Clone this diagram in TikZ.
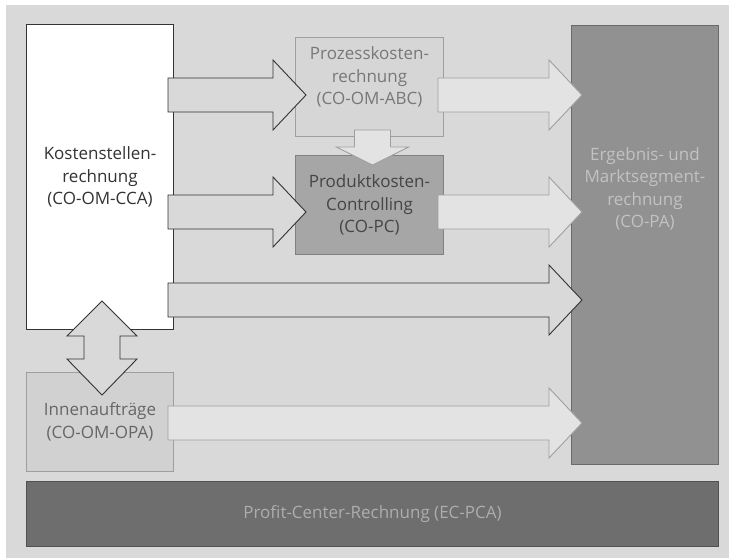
\documentclass[tikz,border=0pt]{standalone}
\usepackage{fontspec}
\setmainfont{Open Sans}
\usetikzlibrary{positioning,calc}

\definecolor{bgGray}{HTML}{D9D9D9}
\definecolor{darkLine}{HTML}{333333}
\definecolor{softLine}{HTML}{9F9F9F}

\newcommand{\rowarrow}[4]{% style, from, to, row
  \draw[#1] let \p1=(#2), \p2=(#3), \p3=(0,#4) in
    ({\x1-6pt},{\y3+17pt}) -- ({\x2-22pt},{\y3+17pt}) -- ({\x2-22pt},{\y3+35pt})
    -- ({\x2+11pt},\y3) -- ({\x2-22pt},{\y3-35pt}) -- ({\x2-22pt},{\y3-17pt})
    -- ({\x1-6pt},{\y3-17pt}) -- cycle;}

\begin{document}
\begin{tikzpicture}[
    x=1pt, y=-1pt,
    node distance=18pt,
    boxfont/.style={font=\fontsize{17}{22.5}\selectfont},
    box/.style={rectangle, draw, line width=1pt, anchor=north west, align=center, boxfont},
    boldarrow/.style={draw=darkLine, fill=bgGray, line width=0.9pt, line join=miter},
    palearrow/.style={draw=softLine, fill=black!11, line width=0.9pt, line join=miter}
]
    \useasboundingbox (0,0) rectangle (729,558);
    \fill[bgGray] (6,5) rectangle (729,558);

    % boxes
    \node[box, draw=darkLine, fill=white, text=darkLine, minimum width=147pt, minimum height=305pt]
      (Kosten) at (26,24) {Kostenstellen-\\rechnung\\(CO-OM-CCA)};
    \node[box, draw=softLine, fill=black!16, minimum width=148pt, minimum height=99pt]
      (Prozess) at (295,37) {};
    \node[text=black!53, align=center, boxfont]
      (ProzessText) at ([yshift=10pt]Prozess.center) {Prozesskosten-\\rechnung\\(CO-OM-ABC)};
    \node[box, draw=black!50, fill=black!35, text=black!73, minimum width=148pt, minimum height=99pt,
      below=of Prozess.south west, anchor=north west] (Produkt) {Produktkosten-\\Controlling\\(CO-PC)};
    \node[box, draw=black!58, fill=black!43, minimum width=147pt, minimum height=439pt]
      (Ergebnis) at (571,25) {};
    \node[text=black!24, align=center, boxfont]
      (ErgebnisText) at ([yshift=56pt]Ergebnis.center) {Ergebnis- und\\Marktsegment-\\rechnung\\(CO-PA)};
    \node[box, draw=softLine, fill=black!18, text=black!60, minimum width=147pt, minimum height=99pt,
      below=42pt of Kosten.south west, anchor=north west] (Innen) {Innenaufträge\\(CO-OM-OPA)};
    \node[box, draw=black!68, fill=black!57, text=black!32, minimum width=692pt, minimum height=65pt]
      (Profit) at (26,481) {Profit-Center-Rechnung (EC-PCA)};

    % flows
    \rowarrow{boldarrow}{Kosten.east}{Prozess.west}{95}
    \rowarrow{boldarrow}{Kosten.east}{Produkt.west}{212}
    \rowarrow{boldarrow}{Kosten.east}{Ergebnis.west}{300}
    \rowarrow{palearrow}{Prozess.east}{Ergebnis.west}{95}
    \rowarrow{palearrow}{Produkt.east}{Ergebnis.west}{212}
    \rowarrow{palearrow}{Innen.east}{Ergebnis.west}{423}

    \draw[palearrow] let \p1=(Prozess.south), \p2=(Produkt.north) in
      ({\x1-15pt},{\y1+7pt}) -- ({\x1+21pt},{\y1+7pt}) -- ({\x1+21pt},{\y2+8pt})
      -- ({\x1+39pt},{\y2+8pt}) -- ({\x1+3pt},{\y2-10pt}) -- ({\x1-33pt},{\y2+8pt})
      -- ({\x1-15pt},{\y2+8pt}) -- cycle;

    \draw[boldarrow] let \p1=(Kosten.south), \p2=(Innen.north) in
      ({\x1+2pt},{\y1+29pt}) -- ({\x1+37pt},{\y1-6pt}) -- ({\x1+20pt},{\y1-6pt})
      -- ({\x1+20pt},{\y2+13pt}) -- ({\x1+37pt},{\y2+13pt}) -- ({\x1+2pt},{\y2-23pt})
      -- ({\x1-33pt},{\y2+13pt}) -- ({\x1-16pt},{\y2+13pt}) -- ({\x1-16pt},{\y1-6pt})
      -- ({\x1-33pt},{\y1-6pt}) -- cycle;
\end{tikzpicture}
\end{document}
